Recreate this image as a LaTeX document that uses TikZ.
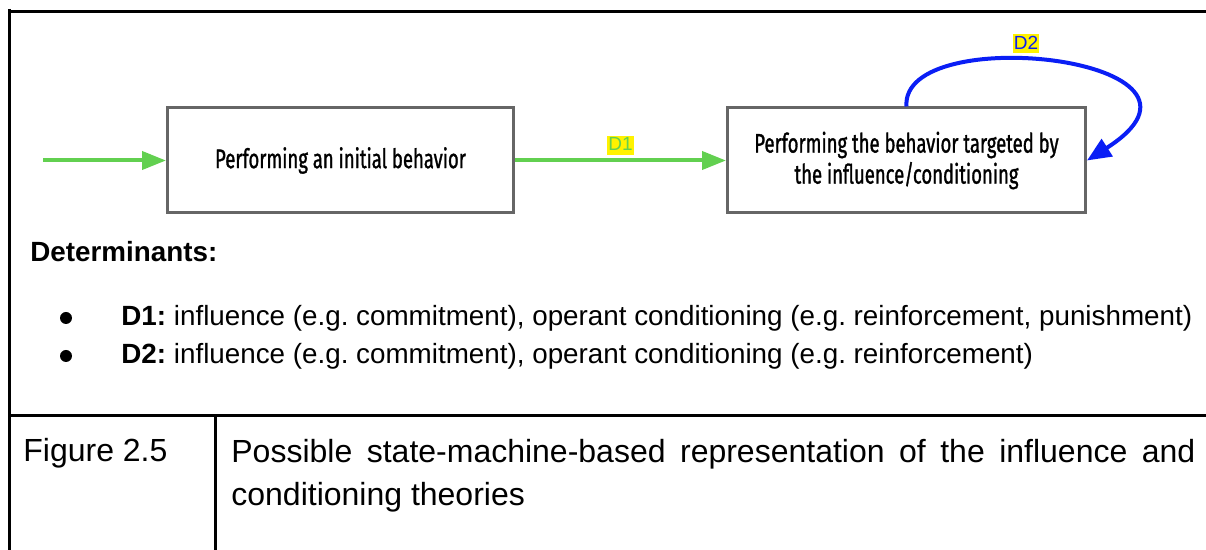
\documentclass[tikz,border=0pt]{standalone}
\usepackage{fontspec}
\setmainfont{Liberation Sans}
\newfontfamily\boxfont[FakeStretch=0.69,FakeBold=1.1]{Fira Sans}
\usetikzlibrary{arrows.meta}
\definecolor{arrgreen}{RGB}{98,208,80}
\definecolor{loopblue}{RGB}{10,30,245}
\definecolor{boxgrey}{RGB}{102,102,102}

\begin{document}
\frenchspacing
\begin{tikzpicture}[x=0.5pt,y=-0.5pt,
  state/.style={draw=boxgrey, line width=1.5pt, minimum height=52.5pt, inner sep=0pt, align=center, font=\boxfont\fontsize{13.4}{15.5}\selectfont},
  tag/.style={fill=yellow, inner xsep=0.5pt, inner ysep=0pt, text height=7.4pt, text depth=2pt, font=\fontsize{9.5}{10}\selectfont},
  go/.style={arrgreen, line width=2pt, -{Triangle[length=12pt,width=9pt]}},
  back/.style={loopblue, line width=2pt, -{Triangle[length=12pt,width=10pt]}},
  frame/.style={black, line width=1.5pt},
  item/.style={anchor=base west, inner sep=0pt, font=\fontsize{13.9}{16}\selectfont}]
\useasboundingbox (0,0) rectangle (1206,550);
% table lines
\draw[frame] (9.5,9) -- (9.5,550);
\draw[frame] (8,11.5) -- (1206,11.5);
\draw[frame] (8,416) -- (1206,416);
\draw[frame] (215,416) -- (215,550);
% states
\node[state, minimum width=173pt] (init) at (340.5,160.5) {Performing an initial behavior};
\node[state, minimum width=179pt] (target) at (906.5,160.5) {\raisebox{-1pt}{Performing the behavior targeted by}\\\raisebox{-1pt}{the influence/conditioning}};
\coordinate (start) at (43,160.5);
\draw[go] (start) -- (init);
\draw[go] (init) -- node[tag, above=1.75pt] (d1) {D1} (target);
\draw[back] (target.north) .. controls (900,20) and (1248,58) .. node[tag, pos=0.43, above=2pt] (d2) {D2} (target.east);
% determinants
\node[anchor=base west, inner sep=0pt, font=\bfseries\fontsize{13.9}{16}\selectfont] (det) at (30,262) {Determinants:};
\foreach \y/\d/\txt in {326/D1/{influence (e.g. commitment), operant conditioning (e.g. reinforcement, punishment)},
                        364/D2/{influence (e.g. commitment), operant conditioning (e.g. reinforcement)}} {
  \fill (66,\y-8) circle (3pt);
  \node[item] (item\d) at (121,\y) {\textbf{\d:} \txt};
}
% caption row
\node[anchor=base west, inner sep=0pt, font=\fontsize{16}{21.5}\selectfont] (fig) at (23,462) {Figure 2.5};
\node[anchor=north west, inner sep=0pt, text width=482pt, align=justify, font=\fontsize{16}{21.5}\selectfont] (capt) at (231,439)
  {\hyphenpenalty=10000 Possible state-machine-based representation of the influence and conditioning theories};
\end{tikzpicture}
\end{document}
